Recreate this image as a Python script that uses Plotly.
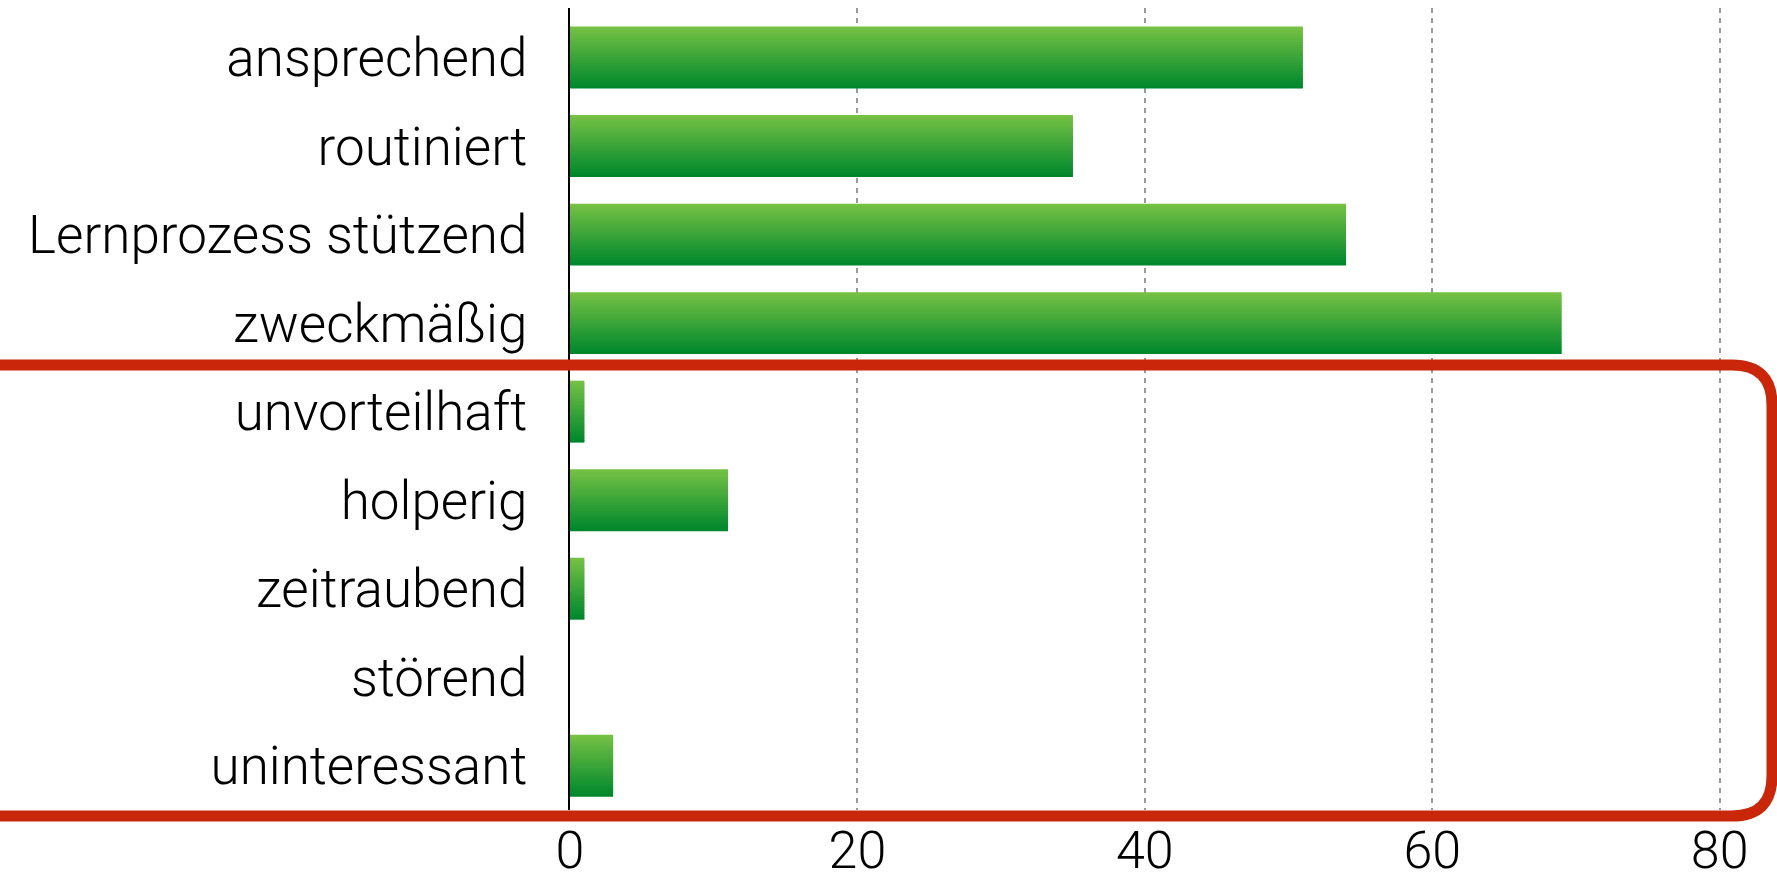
import plotly.graph_objects as go

categories = ["ansprechend", "routiniert", "Lernprozess stützend", "zweckmäßig",
              "unvorteilhaft", "holperig", "zeitraubend", "störend", "uninteressant"]
values = [51, 35, 54, 69, 1, 11, 1, 0, 3]
x_ticks = [0, 20, 40, 60, 80]

W, H = 1777, 889
L, R, T, B = 570, 43, 8, 79
XMAX = 81

top_rgb = (116, 193, 68)
bot_rgb = (0, 135, 45)

fig = go.Figure()
N = 24
bar_w = 0.70
step = bar_w / N
for i in range(N):
    f = i / (N - 1)
    c = tuple(round(a + (b - a) * f) for a, b in zip(top_rgb, bot_rgb))
    off = -bar_w / 2 + i * step
    w = step * 1.6 if i < N - 1 else step
    fig.add_trace(go.Bar(
        y=categories, x=values, orientation="h",
        width=w, offset=off,
        marker=dict(color="rgb(%d,%d,%d)" % c, line=dict(width=0)),
        showlegend=False, hoverinfo="skip",
    ))

pw = W - L - R
ph = H - T - B
def px(x):
    return (x - L) / pw
def py(y):
    return (H - B - y) / ph

top_y, bot_y, right_x, rad, left_x = 365, 816, 1772, 40, -30
path = (f"M {px(left_x)},{py(top_y)} L {px(right_x - rad)},{py(top_y)} "
        f"Q {px(right_x)},{py(top_y)} {px(right_x)},{py(top_y + rad)} "
        f"L {px(right_x)},{py(bot_y - rad)} "
        f"Q {px(right_x)},{py(bot_y)} {px(right_x - rad)},{py(bot_y)} "
        f"L {px(left_x)},{py(bot_y)}")
fig.add_shape(type="path", path=path, xref="paper", yref="paper",
              line=dict(color="#C9260A", width=11), layer="above")

font = dict(family="Roboto", size=53, color="#000000", weight=300)
xfont = dict(family="Roboto", size=52, color="#000000", weight=300)
fig.update_layout(
    width=W, height=H, margin=dict(l=L, r=R, t=T, b=B),
    paper_bgcolor="white", plot_bgcolor="white",
    barmode="overlay", font=font,
    xaxis=dict(range=[0, XMAX], tickvals=x_ticks, ticktext=[str(v) for v in x_ticks],
               showgrid=True, gridcolor="#9a9a9a", gridwidth=2, griddash="5px,5px",
               zeroline=False, showline=False, ticks="", ticklabelstandoff=5,
               tickfont=xfont, fixedrange=True, automargin=False),
    yaxis=dict(categoryorder="array", categoryarray=categories,
               range=[8.5, -0.56], autorange=False,
               showgrid=False, zeroline=False, showline=True, linecolor="black",
               linewidth=2, ticks="", ticklabelstandoff=30, tickfont=font,
               fixedrange=True, automargin=False),
)
fig.write_html("out.html")
